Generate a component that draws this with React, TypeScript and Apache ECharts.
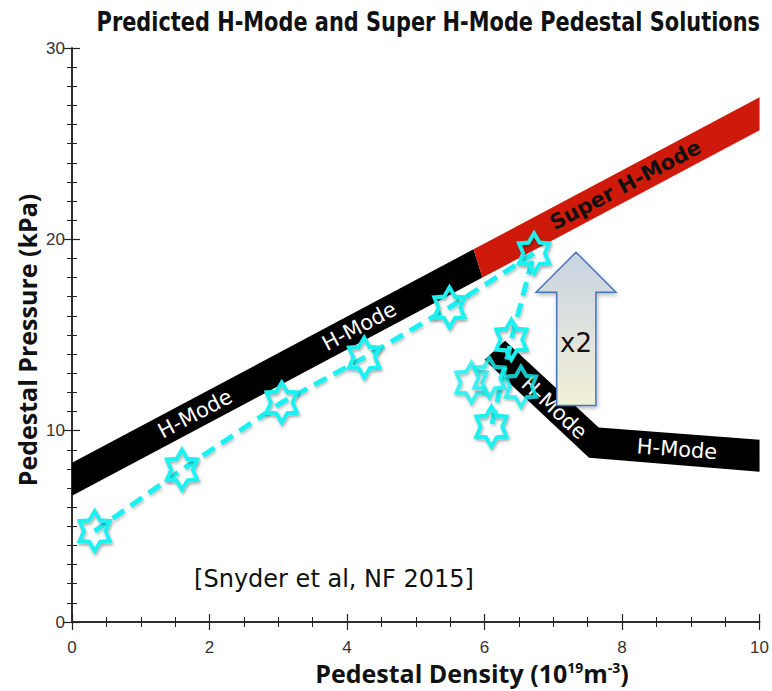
import React, { useEffect, useRef } from "react";
import * as echarts from "echarts";

// Pedestal solution bands: polygon outlines in (density, pressure)
const hModeBand: [number, number][] = [[0, 6.6], [0, 8.32], [5.84, 19.48], [5.97, 18.0]];
const superHModeBand: [number, number][] = [[5.97, 18.0], [5.84, 19.48], [10, 27.43], [10, 25.7]];
const highDensityBand: [number, number][] = [
  [6.0, 13.7], [6.3, 14.7], [7.66, 10.16], [10, 9.53], [10, 7.85], [7.52, 8.59],
];

// Band annotations: text, anchor point, and a direction segment for the text angle
const bandLabelText = ["H-Mode", "H-Mode", "Super H-Mode", "H-Mode", "H-Mode"];
const bandLabelAnchor: [number, number][] = [[1.79, 10.88], [4.18, 15.45], [8.05, 22.84], [7.02, 11.2], [8.8, 9.03]];
const bandLabelDir: [number, number][][] = [
  [[0, 8.32], [10, 27.43]],
  [[0, 8.32], [10, 27.43]],
  [[0, 8.32], [10, 27.43]],
  [[6.3, 14.7], [7.66, 10.16]],
  [[7.66, 10.16], [10, 9.53]],
];

// Connected scan (stars joined by the dashed curve)
const scanDensity = [0.33, 1.6, 3.05, 4.25, 5.49, 6.72, 6.39, 6.1];
const scanPressure = [4.75, 7.96, 11.47, 13.82, 16.44, 19.27, 14.76, 10.21];

// Additional solutions near the high-density branch
const extraDensity = [5.81, 6.07, 6.53];
const extraPressure = [12.51, 12.77, 12.3];

// "x2" arrow outline
const arrowOutline: [number, number][] = [
  [7.33, 19.32], [7.91, 17.23], [7.62, 17.23], [7.62, 11.31],
  [7.05, 11.31], [7.05, 17.23], [6.75, 17.23],
];
const arrowLabelAt: [number, number] = [7.33, 14.6];

const xTicks = { min: 0, max: 10, interval: 2 };
const yTicks = { min: 0, max: 30, interval: 10 };

const CYAN = "#1cf0f0";
const LABEL_FONT = "'DejaVu Sans', 'Noto Sans', sans-serif";
const BOLD_FONT = "'Open Sans', 'Noto Sans', sans-serif";

// six-pointed star outline
const STAR = (() => {
  const pts: string[] = [];
  for (let i = 0; i < 12; i++) {
    const a = -Math.PI / 2 + (i * Math.PI) / 6;
    const r = i % 2 === 0 ? 50 : 31;
    pts.push(`${(50 + r * Math.cos(a)).toFixed(2)} ${(50 + r * Math.sin(a)).toFixed(2)}`);
  }
  return "path://M" + pts.join(" L") + " Z";
})();

const bands = [hModeBand, superHModeBand, highDensityBand];
const bandColors = ["#000000", "#cf1a0b", "#000000"];
const bandTextColors = ["#ffffff", "#ffffff", "#111111", "#ffffff", "#ffffff"];

export default function App() {
  const ref = useRef<HTMLDivElement>(null);

  useEffect(() => {
    document.body.style.margin = "0";
    const chart = echarts.init(ref.current!, null, { renderer: "svg" });

    const axisLineStyle = { color: "#222", width: 1.5 };
    const baseX = {
      type: "value" as const,
      ...xTicks,
      splitLine: { show: false },
      axisLine: { show: true, lineStyle: axisLineStyle },
      axisTick: { show: true, inside: true, length: 8, lineStyle: { color: "#222", width: 1.2 } },
      minorTick: { show: true, splitNumber: 4, length: 5, lineStyle: { color: "#222", width: 1 } },
    };
    const baseY = {
      type: "value" as const,
      ...yTicks,
      splitLine: { show: false },
      axisLine: { show: true, lineStyle: axisLineStyle },
      axisTick: { show: true, inside: true, length: 8, lineStyle: { color: "#222", width: 1.2 } },
      minorTick: { show: true, splitNumber: 10, length: 5, lineStyle: { color: "#222", width: 1 } },
    };
    const tickLabel = {
      fontFamily: "'Liberation Sans', Arial, sans-serif",
      fontSize: 17,
      color: "#333",
    };

    const starItem = {
      color: "rgba(0,0,0,0)",
      borderColor: CYAN,
      borderWidth: 4,
      shadowColor: "rgba(0,0,0,0.35)",
      shadowBlur: 3,
      shadowOffsetX: 1,
      shadowOffsetY: 2,
    };

    chart.setOption({
      animation: false,
      grid: { left: 72, right: 10, top: 48, bottom: 69, containLabel: false },
      xAxis: [
        { ...baseX, position: "bottom", axisLabel: { ...tickLabel, margin: 17 } },
        { ...baseX, position: "top", axisLabel: { show: false } },
      ],
      yAxis: [
        { ...baseY, position: "left", axisLabel: { ...tickLabel, margin: 7 } },
        { ...baseY, position: "right", axisLabel: { show: false } },
      ],
      graphic: [
        {
          type: "text",
          x: 760,
          y: 22,
          scaleX: 0.86,
          z: 10,
          style: {
            text: "Predicted H-Mode and Super H-Mode Pedestal Solutions",
            font: "bold 27px 'DejaVu Sans Condensed', 'Open Sans', sans-serif",
            fill: "#111",
            textAlign: "right",
            textVerticalAlign: "middle",
            align: "right",
            verticalAlign: "middle",
            shadowColor: "rgba(0,0,0,0.5)",
            shadowBlur: 2,
            shadowOffsetX: 2,
            shadowOffsetY: 2,
          },
        },
        {
          type: "text",
          x: 27,
          y: 340,
          rotation: Math.PI / 2,
          z: 10,
          style: {
            text: "Pedestal Pressure (kPa)",
            font: `bold 25px ${BOLD_FONT}`,
            fill: "#111",
            textAlign: "center",
            textVerticalAlign: "middle",
            align: "center",
            verticalAlign: "middle",
          },
        },
        {
          type: "text",
          x: 472,
          y: 673,
          z: 10,
          style: {
            text: "Pedestal Density (10{sup|19}m{sup|-3})",
            font: `bold 25px ${BOLD_FONT}`,
            fill: "#111",
            textAlign: "center",
            textVerticalAlign: "middle",
            align: "center",
            verticalAlign: "middle",
            rich: {
              sup: {
                font: `bold 14px ${BOLD_FONT}`,
                fill: "#111",
                verticalAlign: "top",
                lineHeight: 14,
              },
            },
          },
        },
        {
          type: "text",
          x: 334,
          y: 579,
          z: 10,
          style: {
            text: "[Snyder et al, NF 2015]",
            font: `24px ${LABEL_FONT}`,
            fill: "#111",
            textAlign: "center",
            textVerticalAlign: "middle",
            align: "center",
            verticalAlign: "middle",
          },
        },
      ],
      series: [
        {
          type: "custom",
          coordinateSystem: "cartesian2d",
          z: 1,
          data: bands.map((_, i) => [i, 0]),
          renderItem: (_p: any, api: any) => {
            const idx = api.value(0);
            return {
              type: "polygon",
              shape: { points: bands[idx].map((pt) => api.coord(pt)) },
              style: { fill: bandColors[idx] },
            };
          },
        },
        {
          type: "custom",
          coordinateSystem: "cartesian2d",
          z: 2,
          data: bandLabelText.map((_, i) => [i, 0]),
          renderItem: (_p: any, api: any) => {
            const idx = api.value(0);
            const c = api.coord(bandLabelAnchor[idx]);
            const a = api.coord(bandLabelDir[idx][0]);
            const b = api.coord(bandLabelDir[idx][1]);
            const ang = -Math.atan2(b[1] - a[1], b[0] - a[0]);
            const isSuper = idx === 2;
            return {
              type: "text",
              x: c[0],
              y: c[1],
              rotation: ang,
              style: {
                text: bandLabelText[idx],
                fill: bandTextColors[idx],
                font: isSuper ? `bold 21px ${LABEL_FONT}` : `21px ${LABEL_FONT}`,
                textAlign: "center",
                textVerticalAlign: "middle",
                align: "center",
                verticalAlign: "middle",
              },
            };
          },
        },
        {
          type: "line",
          z: 3,
          data: scanDensity.map((x, i) => [x, scanPressure[i]]),
          symbol: STAR,
          symbolSize: [35, 40],
          symbolKeepAspect: true,
          showAllSymbol: true,
          lineStyle: {
            color: CYAN,
            width: 5,
            type: [14, 8],
            shadowColor: "rgba(0,0,0,0.25)",
            shadowBlur: 3,
            shadowOffsetX: 1,
            shadowOffsetY: 2,
          },
          itemStyle: starItem,
        },
        {
          type: "scatter",
          z: 3,
          data: extraDensity.map((x, i) => [x, extraPressure[i]]),
          symbol: STAR,
          symbolSize: [35, 40],
          symbolKeepAspect: true,
          itemStyle: starItem,
        },
        {
          type: "custom",
          coordinateSystem: "cartesian2d",
          z: 4,
          data: [[0, 0]],
          renderItem: (_p: any, api: any) => {
            const pts = arrowOutline.map((pt) => api.coord(pt));
            const lbl = api.coord(arrowLabelAt);
            return {
              type: "group",
              children: [
                {
                  type: "polygon",
                  shape: { points: pts },
                  style: {
                    fill: new echarts.graphic.LinearGradient(0, 0, 0, 1, [
                      { offset: 0, color: "#c9d4e2" },
                      { offset: 1, color: "#f2f0d6" },
                    ]),
                    stroke: "#4a74bb",
                    lineWidth: 1.5,
                    shadowColor: "rgba(0,0,0,0.3)",
                    shadowBlur: 4,
                    shadowOffsetX: 1,
                    shadowOffsetY: 2,
                  },
                },
                {
                  type: "text",
                  x: lbl[0],
                  y: lbl[1],
                  style: {
                    text: "x2",
                    fill: "#111",
                    font: `26px ${LABEL_FONT}`,
                    textAlign: "center",
                    textVerticalAlign: "middle",
                    align: "center",
                    verticalAlign: "middle",
                  },
                },
              ],
            };
          },
        },
      ],
    });

    return () => chart.dispose();
  }, []);

  return <div ref={ref} style={{ width: 772, height: 691 }} />;
}
